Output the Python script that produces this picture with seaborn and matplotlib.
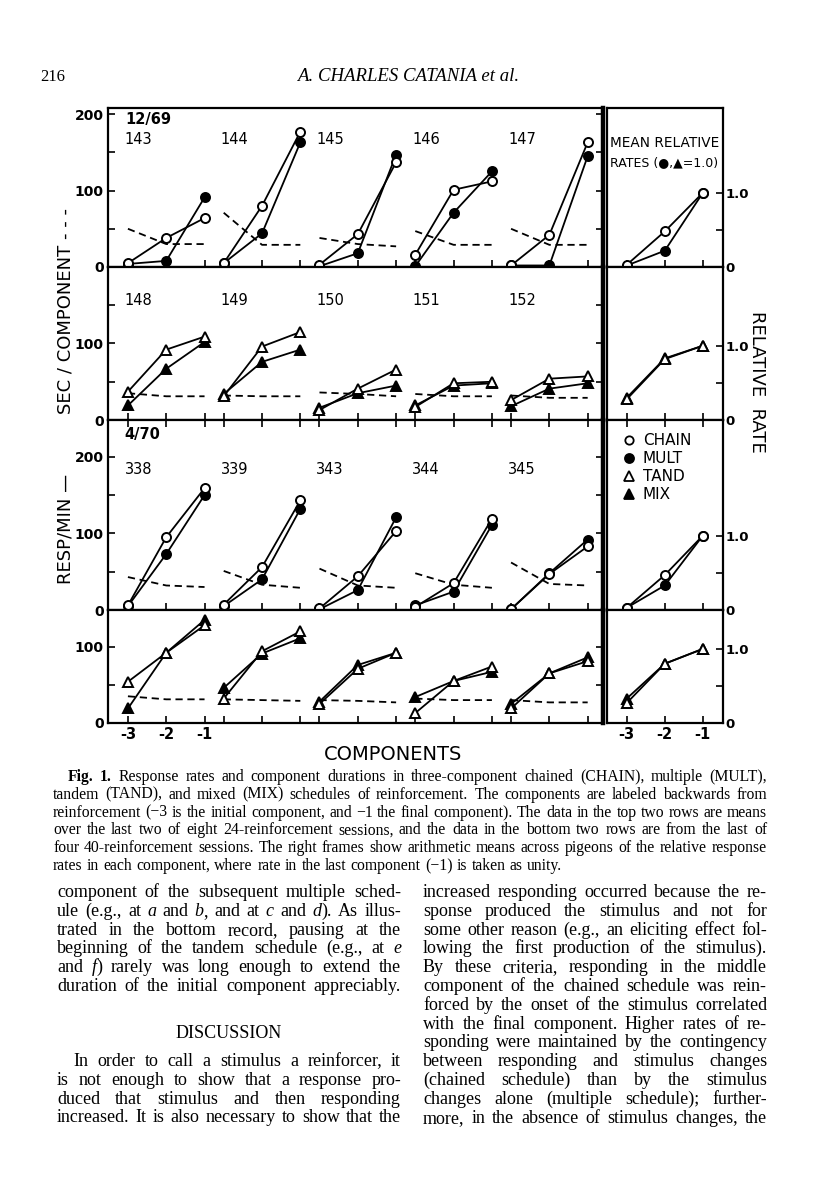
import re
import matplotlib
matplotlib.use("Agg")
import matplotlib.pyplot as plt
from matplotlib.lines import Line2D
import seaborn as sns

sns.set_theme(style="white", rc={
    "axes.edgecolor": "black", "text.color": "black",
    "xtick.color": "black", "ytick.color": "black",
    "axes.linewidth": 1.6,
})
plt.rcParams["font.family"] = ["DejaVu Sans"]

W, H = 816, 1200

comps = ["-3", "-2", "-1"]

# top row, 12/69: chained (open) vs multiple (filled), dashed = sec/component
birds_r1 = ["143", "144", "145", "146", "147"]
chain_r1 = [[5, 38, 64], [5, 80, 177], [3, 43, 137], [16, 101, 112], [2, 42, 163]]
mult_r1 = [[4, 8, 91], [5, 44, 163], [1, 18, 147], [1, 71, 125], [2, 2, 145]]
dur_r1 = [[50, 30, 30], [71, 29, 29], [38, 30, 27], [47, 29, 29], [50, 29, 29]]
rel_chain_r1 = [0.03, 0.48, 1.0]
rel_mult_r1 = [0.02, 0.22, 1.0]

# second row: tandem (open) vs mixed (filled)
birds_r2 = ["148", "149", "150", "151", "152"]
tand_r2 = [[37, 92, 109], [31, 96, 115], [13, 41, 66], [17, 48, 50], [26, 54, 57]]
mix_r2 = [[19, 67, 102], [34, 76, 92], [16, 35, 45], [19, 45, 48], [18, 41, 48]]
dur_r2 = [[35, 31, 31], [32, 31, 31], [36, 34, 31], [34, 31, 31], [32, 29, 29]]
rel_tand_r2 = [0.28, 0.82, 1.0]
rel_mix_r2 = [0.30, 0.83, 1.0]

# third row, 4/70: chained vs multiple
birds_r3 = ["338", "339", "343", "344", "345"]
chain_r3 = [[6, 95, 159], [7, 56, 143], [2, 44, 103], [4, 35, 119], [1, 47, 83]]
mult_r3 = [[5, 73, 150], [5, 40, 132], [1, 26, 121], [6, 24, 111], [1, 48, 92]]
dur_r3 = [[43, 32, 30], [51, 33, 29], [54, 32, 29], [48, 33, 29], [62, 34, 32]]
rel_chain_r3 = [0.03, 0.47, 1.0]
rel_mult_r3 = [0.03, 0.33, 1.0]

# bottom row: tandem vs mixed
tand_r4 = [[54, 92, 128], [32, 94, 120], [25, 71, 92], [13, 55, 74], [19, 65, 81]]
mix_r4 = [[19, 92, 135], [46, 91, 111], [28, 76, 92], [34, 55, 67], [25, 65, 86]]
dur_r4 = [[35, 31, 31], [31, 30, 29], [30, 29, 27], [32, 30, 30], [30, 27, 27]]
rel_tand_r4 = [0.27, 0.80, 1.0]
rel_mix_r4 = [0.33, 0.80, 1.0]

rows = [
    dict(open=chain_r1, filled=mult_r1, dur=dur_r1, birds=birds_r1, tri=False,
         rel_open=rel_chain_r1, rel_filled=rel_mult_r1, date="12/69"),
    dict(open=tand_r2, filled=mix_r2, dur=dur_r2, birds=birds_r2, tri=True,
         rel_open=rel_tand_r2, rel_filled=rel_mix_r2, date=None),
    dict(open=chain_r3, filled=mult_r3, dur=dur_r3, birds=birds_r3, tri=False,
         rel_open=rel_chain_r3, rel_filled=rel_mult_r3, date="4/70"),
    dict(open=tand_r4, filled=mix_r4, dur=dur_r4, birds=None, tri=True,
         rel_open=rel_tand_r4, rel_filled=rel_mix_r4, date=None),
]

# layout (pixels)
row_px = [(108, 267), (267, 420), (420, 610), (610, 723)]
ytop = [208, 200, 248, 148]
bird_y = [167, 156, 184, None]
date_y = [193, None, 229, None]


def box(x0, y0, x1, y1):
    return [x0 / W, 1 - y1 / H, (x1 - x0) / W, (y1 - y0) / H]


def series(ax, xs, ys, filled, tri, z):
    sns.lineplot(x=xs, y=ys, ax=ax, color="black", linewidth=1.3,
                 marker="^" if tri else "o", markersize=7.5 if tri else 6.5,
                 markerfacecolor="black" if filled else "white",
                 markeredgecolor="black", markeredgewidth=1.4,
                 errorbar=None, legend=False, zorder=z, clip_on=False)


fig = plt.figure(figsize=(W / 100, H / 100), dpi=100)

xpos_all = [2.5 * g + c for g in range(5) for c in range(3)]

for r, row in enumerate(rows):
    top, bot = row_px[r]
    ax = fig.add_axes(box(108, top, 603, bot))
    rax = fig.add_axes(box(607, top, 723, bot))

    for g in range(5):
        xs = [2.5 * g + c for c in range(3)]
        sns.lineplot(x=xs, y=row["dur"][g], ax=ax, color="black", linewidth=1.3,
                     linestyle=(0, (4, 2.6)), errorbar=None, legend=False, zorder=2)
        series(ax, xs, row["filled"][g], True, row["tri"], 3)
        series(ax, xs, row["open"][g], False, row["tri"], 4)
        if row["birds"]:
            ax.text(2.5 * g - 0.08, bird_y[r], row["birds"][g], ha="left",
                    va="center", fontsize=10.5)
    if row["date"]:
        ax.text(-0.08, date_y[r], row["date"], ha="left", va="center",
                fontsize=10.5, fontweight="bold")

    rmax = ytop[r] / 100 * 1.03
    series(rax, [0, 1, 2], row["rel_filled"], True, row["tri"], 3)
    series(rax, [0, 1, 2], row["rel_open"], False, row["tri"], 4)

    ax.set_xlim(-0.52, 12.4)
    ax.set_ylim(0, ytop[r])
    rax.set_xlim(-0.52, 2.53)
    rax.set_ylim(0, rmax)

    for a in (ax, rax):
        a.set_xlabel("")
        a.set_ylabel("")
        for s in a.spines.values():
            s.set_linewidth(1.6)
    ax.spines["right"].set_linewidth(3.2)

    # main panel ticks
    yt = [v for v in range(0, 201, 50) if v < ytop[r] - 1]
    ax.set_yticks(yt)
    ax.set_yticklabels([str(v) if v % 100 == 0 else "" for v in yt],
                       fontsize=10, fontweight="bold")
    ax.tick_params(axis="y", direction="in", length=5, width=1.2, left=True,
                   right=True, pad=3)
    ax.set_xticks(xpos_all)
    if r == 3:
        ax.set_xticklabels(comps + [""] * 12, fontsize=10.5, fontweight="bold")
    else:
        ax.set_xticklabels([])
    ax.tick_params(axis="x", direction="in", length=5, width=1.2, bottom=True,
                   top=(r == 2), pad=3)

    # right panel ticks
    rax.yaxis.tick_right()
    rax.set_yticks([0, 0.5, 1.0])
    rax.set_yticklabels(["0", "", "1.0"], fontsize=9.5, fontweight="bold")
    rax.tick_params(axis="y", direction="in", length=5, width=1.2, left=False,
                    right=True, pad=1.5)
    rax.set_xticks([0, 1, 2])
    if r == 3:
        rax.set_xticklabels(comps, fontsize=10.5, fontweight="bold")
    else:
        rax.set_xticklabels([])
    rax.tick_params(axis="x", direction="in", length=5, width=1.2, bottom=True,
                    top=(r == 2), pad=3)

    if r == 0:
        rax.text(0.025, 0.78, "MEAN RELATIVE", transform=rax.transAxes,
                 ha="left", va="center", fontsize=9.8)
        rax.text(0.025, 0.654, "RATES (\u25cf,\u25b2=1.0)", transform=rax.transAxes,
                 ha="left", va="center", fontsize=9.0)
    if r == 2:
        kw = dict(ls="none", mec="black", mew=1.3)
        handles = [
            Line2D([], [], marker="o", ms=6, mfc="white", label="CHAIN", **kw),
            Line2D([], [], marker="o", ms=6.5, mfc="black", label="MULT", **kw),
            Line2D([], [], marker="^", ms=7, mfc="white", label="TAND", **kw),
            Line2D([], [], marker="^", ms=7, mfc="black", label="MIX", **kw),
        ]
        rax.legend(handles=handles, loc="upper left",
                   bbox_to_anchor=((623 - 607) / 116, (610 - 433) / 190),
                   frameon=False, fontsize=11, handlelength=0.8,
                   handletextpad=0.5, labelspacing=0.2, borderpad=0,
                   borderaxespad=0)

# axis titles
fig.text(393 / W, 1 - 754 / H, "COMPONENTS", ha="center", va="center", fontsize=14)
fig.text(66 / W, 1 - 311 / H, "SEC / COMPONENT - - -", ha="center", va="center",
         rotation=90, fontsize=13)
fig.text(66 / W, 1 - 529 / H, "RESP/MIN \u2014", ha="center", va="center",
         rotation=90, fontsize=13)
fig.text(757 / W, 1 - 382 / H, "RELATIVE  RATE", ha="center", va="center",
         rotation=-90, fontsize=13)

# ---- page text ----
renderer = fig.canvas.get_renderer()


def runs_of(line):
    out = []
    italic = bold = False
    for word in line.split(" "):
        runs = []
        for tok in re.split(r"([_*])", word):
            if tok == "_":
                italic = not italic
            elif tok == "*":
                bold = not bold
            elif tok:
                runs.append((tok, italic, bold))
        out.append(runs)
    return out


def text_line(line, x0, x1, y, size, justify=True, italic=False):
    made = []
    total = 0
    for runs in runs_of(line):
        wl = []
        for tok, it, bd in runs:
            t = fig.text(0, 1 - y / H, tok, fontsize=size, family="Liberation Serif",
                         style="italic" if (it or italic) else "normal",
                         weight="bold" if bd else "normal", va="baseline")
            w = t.get_window_extent(renderer).width
            wl.append((t, w))
            total += w
        made.append(wl)
    gap = size * 0.27 * 100 / 72
    if justify and len(made) > 1:
        gap = (x1 - x0 - total) / (len(made) - 1)
    x = x0
    for wl in made:
        for t, w in wl:
            t.set_x(x / W)
            x += w
        x += gap


fig.text(40 / W, 1 - 81 / H, "216", fontsize=12, family="Liberation Serif",
         va="baseline")
fig.text(408 / W, 1 - 81 / H, "A. CHARLES CATANIA et al.", fontsize=13.5,
         family="Liberation Serif", style="italic", ha="center", va="baseline")

caption = [
    "*Fig. 1.* Response rates and component durations in three-component chained (CHAIN), multiple (MULT),",
    "tandem (TAND), and mixed (MIX) schedules of reinforcement. The components are labeled backwards from",
    "reinforcement (\u22123 is the initial component, and \u22121 the final component). The data in the top two rows are means",
    "over the last two of eight 24-reinforcement sessions, and the data in the bottom two rows are from the last of",
    "four 40-reinforcement sessions. The right frames show arithmetic means across pigeons of the relative response",
    "rates in each component, where rate in the last component (\u22121) is taken as unity.",
]
for i, line in enumerate(caption):
    text_line(line, 68 if i == 0 else 53, 767, 781 + i * 17.8, 11.3,
              justify=i < len(caption) - 1)

left_a = [
    "component of the subsequent multiple sched-",
    "ule (e.g., at _a_ and _b_, and at _c_ and _d_). As illus-",
    "trated in the bottom record, pausing at the",
    "beginning of the tandem schedule (e.g., at _e_",
    "and _f_) rarely was long enough to extend the",
    "duration of the initial component appreciably.",
]
left_b = [
    "In order to call a stimulus a reinforcer, it",
    "is not enough to show that a response pro-",
    "duced that stimulus and then responding",
    "increased. It is also necessary to show that the",
]
right_col = [
    "increased responding occurred because the re-",
    "sponse produced the stimulus and not for",
    "some other reason (e.g., an eliciting effect fol-",
    "lowing the first production of the stimulus).",
    "By these criteria, responding in the middle",
    "component of the chained schedule was rein-",
    "forced by the onset of the stimulus correlated",
    "with the final component. Higher rates of re-",
    "sponding were maintained by the contingency",
    "between responding and stimulus changes",
    "(chained schedule) than by the stimulus",
    "changes alone (multiple schedule); further-",
    "more, in the absence of stimulus changes, the",
]
for i, line in enumerate(left_a):
    text_line(line, 57, 401, 897 + i * 18.8, 13)
fig.text(229 / W, 1 - 1038 / H, "DISCUSSION", fontsize=13, family="Liberation Serif",
         ha="center", va="baseline")
for i, line in enumerate(left_b):
    text_line(line, 73 if i == 0 else 57, 401, 1066 + i * 18.8, 13)
for i, line in enumerate(right_col):
    text_line(line, 423, 767, 897 + i * 18.8, 13)

fig.savefig("out.png", dpi=100)
